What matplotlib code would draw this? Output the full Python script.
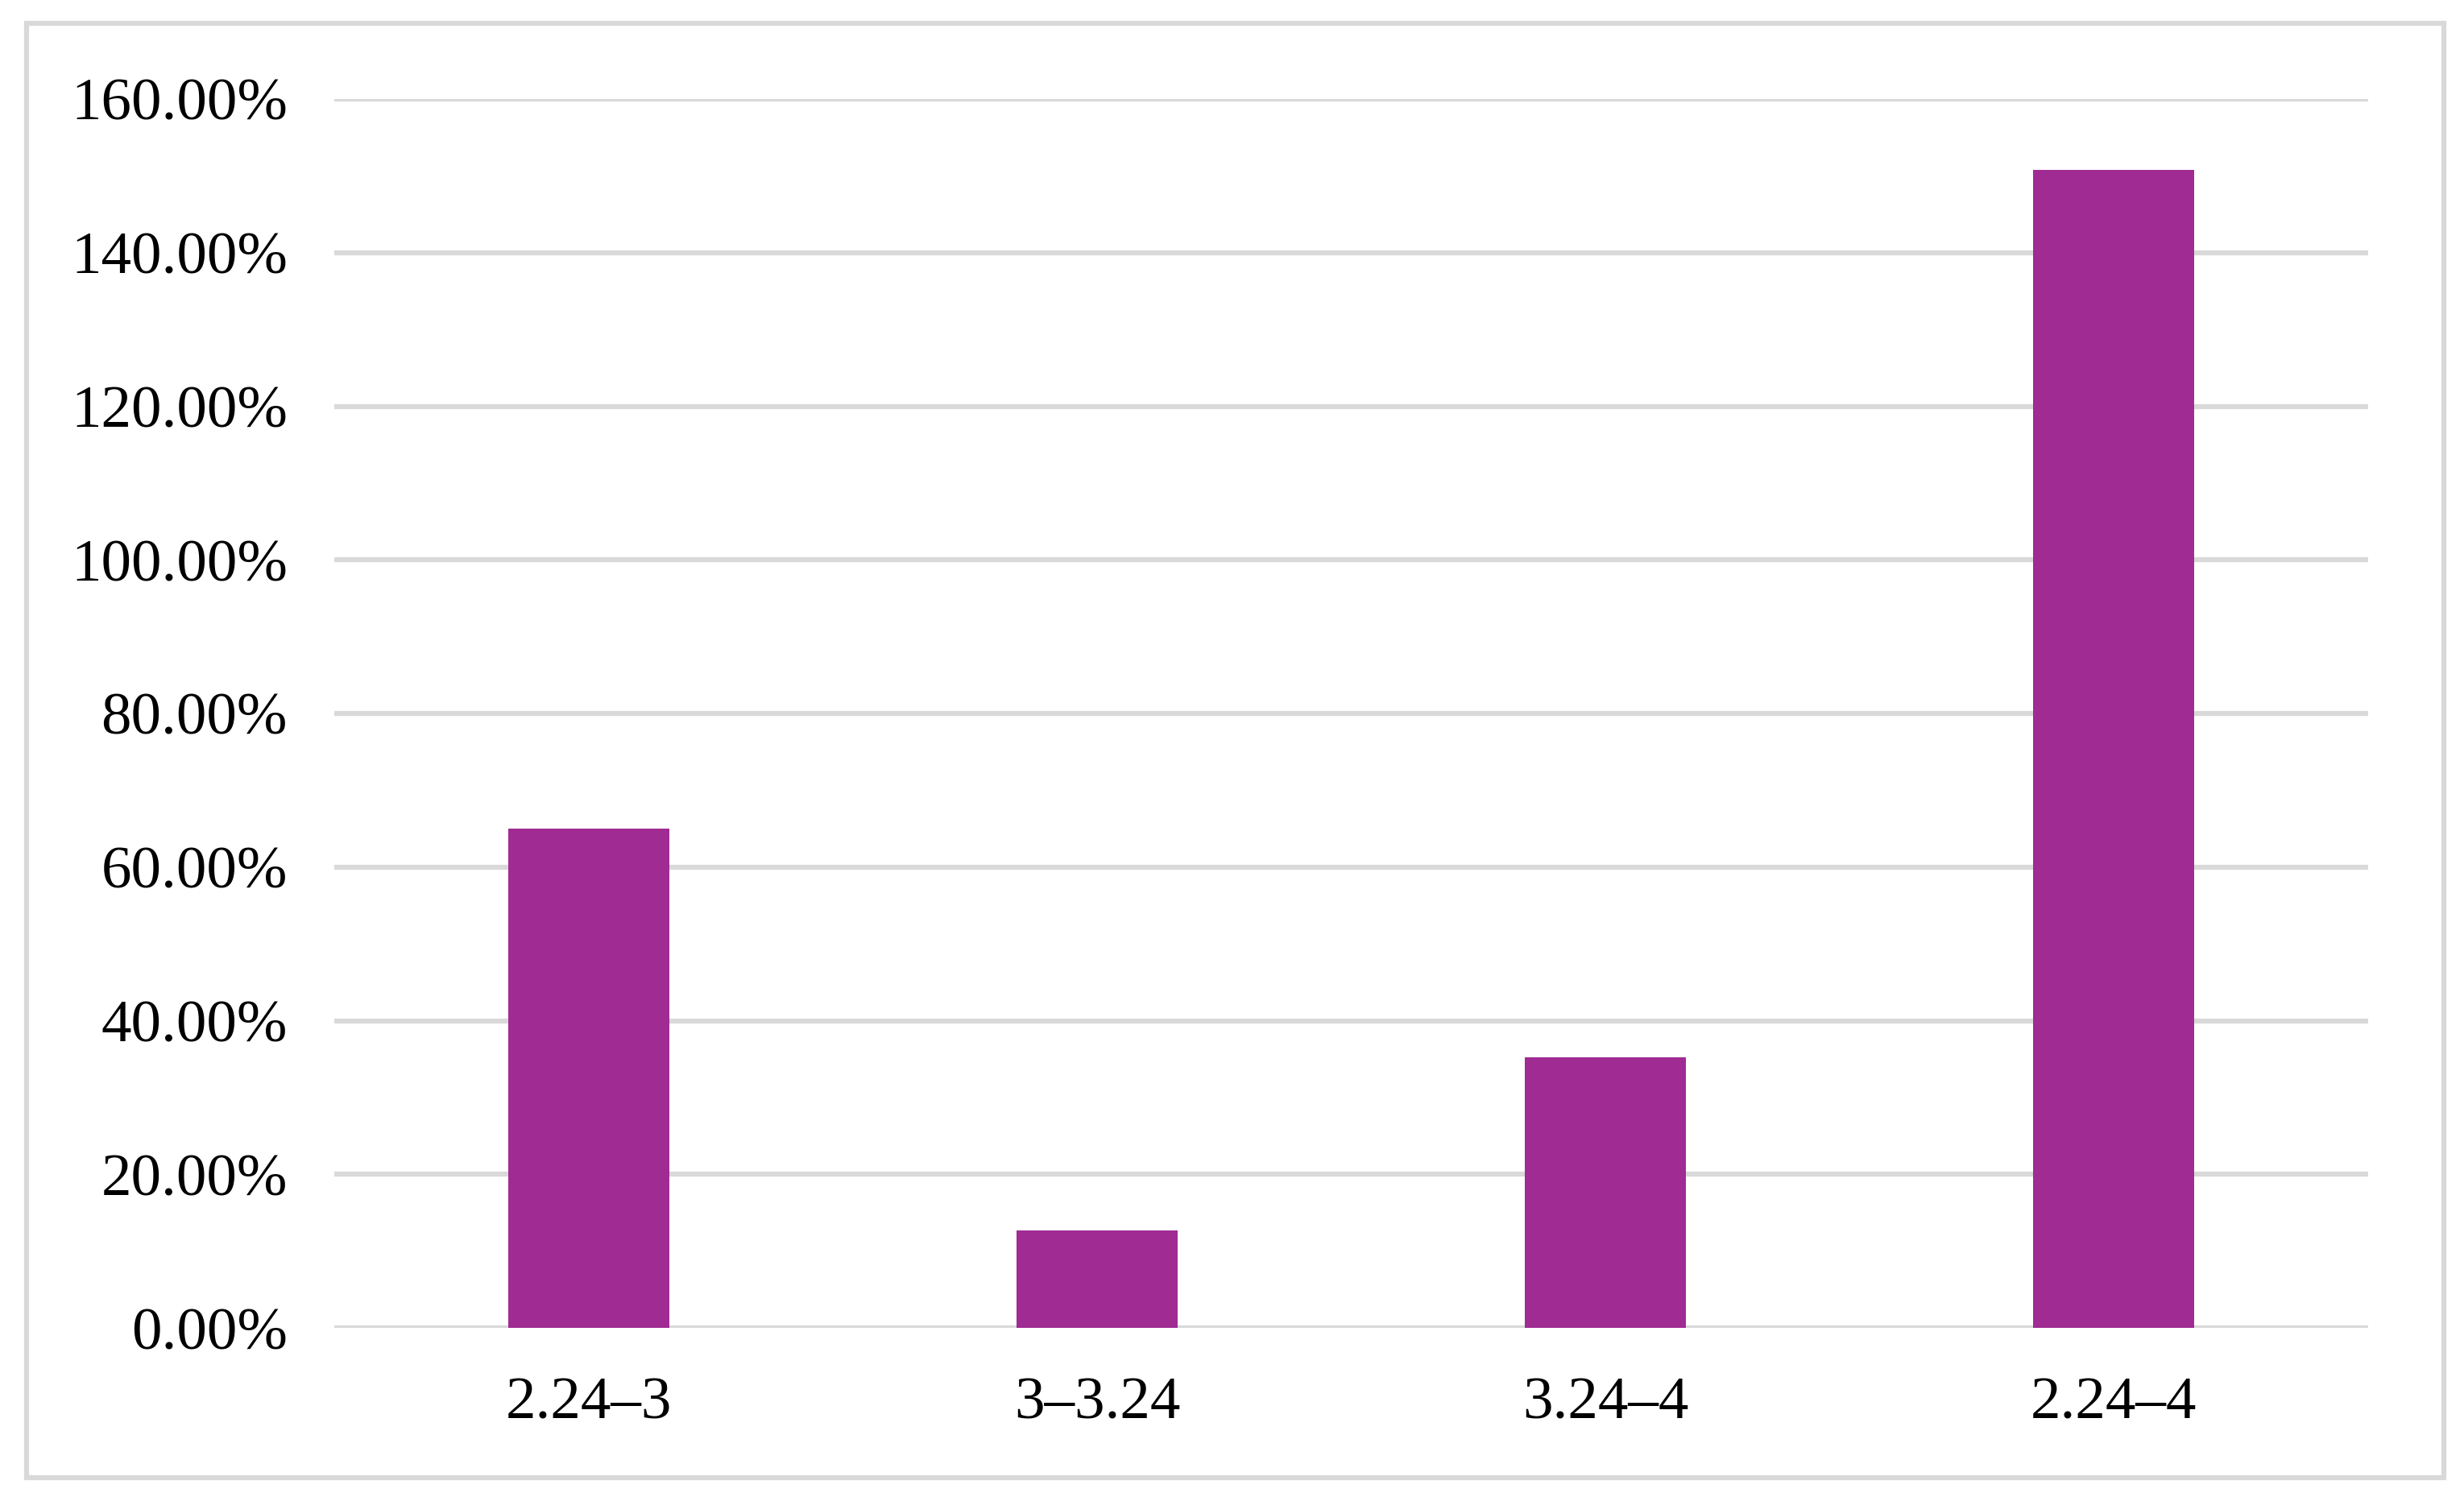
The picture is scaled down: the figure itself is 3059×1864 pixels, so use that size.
import numpy as np
import matplotlib
matplotlib.use("Agg")
from matplotlib import pyplot as plt
from matplotlib.patches import Rectangle
from matplotlib.ticker import FuncFormatter

# 数据
categories = ["2.24–3", "3–3.24", "3.24–4", "2.24–4"]
values = [0.650, 0.127, 0.352, 1.508]
yticks = [0, 0.2, 0.4, 0.6, 0.8, 1.0, 1.2, 1.4, 1.6]

plt.rcParams['font.family'] = ['Liberation Serif', 'DejaVu Serif']

fig = plt.figure(figsize=(30.59, 18.64), dpi=100)
ax = fig.add_axes([0.1358, 0.1152, 0.961 - 0.1358, 0.934 - 0.1152])

x = np.arange(len(categories))
ax.bar(x, values, width=0.316, color="#A02B93", zorder=3)

ax.set_xlim(-0.5, 3.5)
ax.set_ylim(0, 1.6)
ax.set_yticks(yticks)
ax.yaxis.set_major_formatter(FuncFormatter(lambda v, p: "%.2f%%" % (v * 100)))
ax.set_xticks(x)
ax.set_xticklabels(categories)

ax.grid(axis="y", color="#d9d9d9", linewidth=4.5, zorder=0)
ax.set_axisbelow(True)
for s in ax.spines.values():
    s.set_visible(False)
ax.tick_params(axis="y", length=0, pad=42, labelsize=54)
ax.tick_params(axis="x", length=0, pad=44, labelsize=54)

# 外框
fig.patches.append(Rectangle((0.0108, 0.0157), 0.9917 - 0.0108, 0.9843 - 0.0157,
                             transform=fig.transFigure, fill=False,
                             edgecolor="#d9d9d9", linewidth=4.5))

fig.savefig("out.png", dpi=100, facecolor="white")
